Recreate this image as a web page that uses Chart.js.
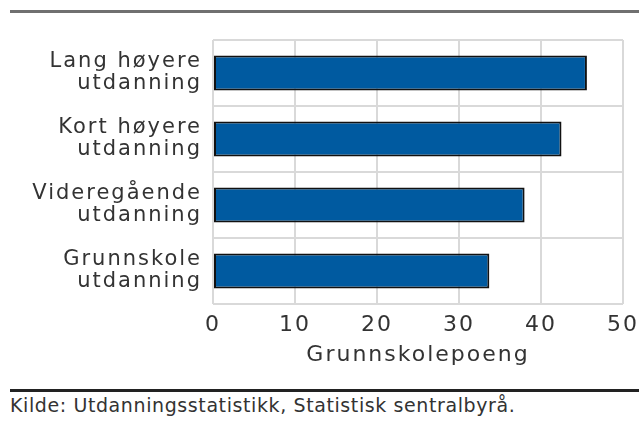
<!DOCTYPE html>
<html>
<head>
<meta charset="utf-8">
<script src="https://cdn.jsdelivr.net/npm/chart.js@4"></script>
<style>
    html, body { margin: 0; padding: 0; background: #fff; }
    #page { position: relative; width: 639px; height: 425px; overflow: hidden; font-family: "DejaVu Sans", sans-serif; }
    #chartBox { position: absolute; left: 0; top: 0; width: 639px; height: 375px; }
    #topLine { position: absolute; left: 10px; top: 10px; width: 629px; height: 3px; background: #707070; }
    #bottomLine { position: absolute; left: 10px; top: 389px; width: 629px; height: 3px; background: #222; }
    #source { position: absolute; left: 10px; top: 394px; font-size: 19px; line-height: 22px; letter-spacing: 0.6px; color: #333; white-space: nowrap; }
</style>
</head>
<body>
<div id="page">
    <div id="topLine"></div>
    <div id="chartBox"><canvas id="chart"></canvas></div>
    <div id="bottomLine"></div>
    <div id="source">Kilde: Utdanningsstatistikk, Statistisk sentralbyrå.</div>
</div>
<script>
const categories = [
    ["Lang høyere", "utdanning"],
    ["Kort høyere", "utdanning"],
    ["Videregående", "utdanning"],
    ["Grunnskole", "utdanning"]
];
const points = [45.6, 42.5, 38.0, 33.7];
const xTicks = [0, 10, 20, 30, 40, 50];

const textColor = "#333";
const gridColor = "#d9d9d9";

// wider letter spacing to match the reference lettering
const spacing = {
    id: "spacing",
    beforeUpdate(chart) { chart.ctx.letterSpacing = "2px"; },
    beforeLayout(chart) { chart.ctx.letterSpacing = "2px"; },
    beforeDraw(chart) { chart.ctx.letterSpacing = "2px"; }
};

new Chart(document.getElementById("chart"), {
    type: "bar",
    data: {
        labels: categories,
        datasets: [{
            data: points,
            backgroundColor: "#005aa0",
            borderColor: "#111",
            borderWidth: 2,
            borderSkipped: false,
            barPercentage: 0.53,
            categoryPercentage: 1
        }]
    },
    options: {
        indexAxis: "y",
        responsive: true,
        maintainAspectRatio: false,
        animation: false,
        layout: { padding: { top: 40, right: 16, left: 0, bottom: 0 } },
        plugins: {
            legend: { display: false },
            tooltip: { enabled: false }
        },
        scales: {
            x: {
                min: 0,
                max: 50,
                afterBuildTicks: s => { s.ticks = xTicks.map(v => ({ value: v })); },
                afterFit: s => { s.height = 71; s.paddingRight = 0; },
                grid: { color: gridColor, lineWidth: 2, drawTicks: false },
                border: { display: false },
                ticks: {
                    color: textColor,
                    padding: 8,
                    font: { family: "DejaVu Sans", size: 22 }
                },
                title: {
                    display: true,
                    text: "Grunnskolepoeng",
                    color: textColor,
                    padding: { top: 0, bottom: 7 },
                    font: { family: "DejaVu Sans", size: 22 }
                }
            },
            y: {
                afterFit: s => { s.width = 213; },
                grid: { color: gridColor, lineWidth: 2, drawTicks: false, offset: true },
                border: { display: false },
                ticks: {
                    color: textColor,
                    padding: 11,
                    font: { family: "DejaVu Sans", size: 21, lineHeight: 1.05 }
                }
            }
        }
    },
    plugins: [spacing]
});
</script>
</body>
</html>
